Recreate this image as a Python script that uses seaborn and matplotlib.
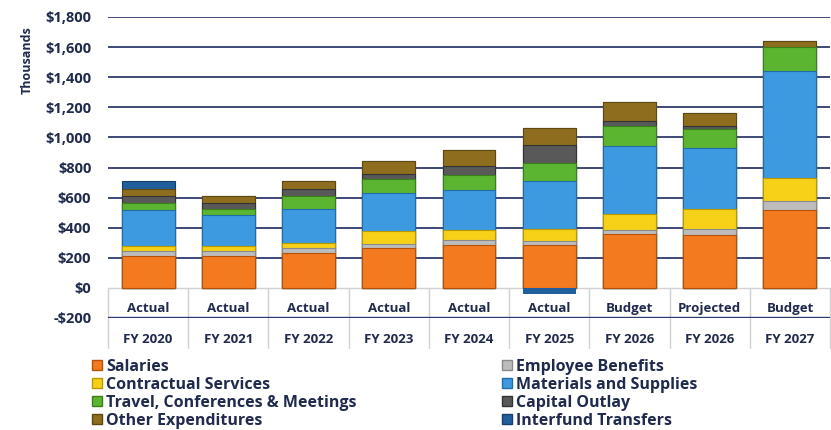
import numpy as np
import pandas as pd
import matplotlib
matplotlib.use("Agg")
import matplotlib.pyplot as plt
import seaborn as sns
from matplotlib.patches import Patch
from matplotlib.ticker import FuncFormatter

# ---------------- data ----------------
periods = ["Actual", "Actual", "Actual", "Actual", "Actual", "Actual", "Budget", "Projected", "Budget"]
years = ["FY 2020", "FY 2021", "FY 2022", "FY 2023", "FY 2024", "FY 2025", "FY 2026", "FY 2026", "FY 2027"]

salaries = [215, 215, 233, 262, 282, 282, 355, 350, 517]
employee_benefits = [30, 30, 34, 31, 35, 29, 29, 43, 60]
contractual_services = [33, 33, 33, 84, 67, 78, 105, 134, 150]
materials_supplies = [238, 206, 222, 256, 267, 322, 455, 400, 717]
travel = [51, 38, 89, 89, 100, 118, 129, 129, 156]
capital_outlay = [45, 40, 44, 33, 60, 120, 38, 22, 0]
other_expenditures = [44, 49, 56, 85, 104, 111, 122, 84, 40]
interfund_transfers = [52, 0, 0, 0, 0, -40, 0, 0, 0]

series_names = ["Salaries", "Employee Benefits", "Contractual Services", "Materials and Supplies",
                "Travel, Conferences & Meetings", "Capital Outlay", "Other Expenditures",
                "Interfund Transfers"]
series_values = [salaries, employee_benefits, contractual_services, materials_supplies,
                 travel, capital_outlay, other_expenditures, interfund_transfers]
colors = ["#F47A1F", "#BDBDBD", "#F7D117", "#3D9AE0", "#5BB531", "#595959", "#8E6E1E", "#215E9C"]
edges = ["#B5520A", "#8A8A8A", "#B89A00", "#1F6DA8", "#3A8019", "#333333", "#5E4810", "#143E6B"]

# ---------------- frame ----------------
keys = [f"{p} {y}" for p, y in zip(periods, years)]
df = pd.DataFrame(dict(zip(series_names, series_values)), index=keys)
pos = df.clip(lower=0).cumsum(axis=1)
neg = df.clip(upper=0)

sns.set_theme(style="white")
navy = "#1F2A4D"
plt.rcParams["font.family"] = ["Open Sans", "DejaVu Sans"]
plt.rcParams["font.weight"] = "bold"

fig = plt.figure(figsize=(8.31, 4.30), dpi=100)
ax = fig.add_axes([108 / 831, (430 - 318) / 430, 722 / 831, 301 / 430])

# gridlines
for v in [-200, 200, 400, 600, 800, 1000, 1200, 1400, 1600, 1800]:
    ax.axhline(v, color="#2E3A6B", lw=1.7 if v == -200 else 1.3, zorder=0.5)
ax.axhline(0, color="#D3D3D3", lw=1.0, zorder=0.6)

# stacked bars (draw cumulative from top layer down)
for i in reversed(range(len(series_names))):
    name = series_names[i]
    sns.barplot(x=keys, y=pos[name].values, order=keys, color=colors[i], saturation=1,
                edgecolor=edges[i], linewidth=0.8, width=0.66, errorbar=None, ax=ax, zorder=2)
name = series_names[-1]
sns.barplot(x=keys, y=neg[name].values, order=keys, color=colors[-1], saturation=1,
            edgecolor=colors[-1], linewidth=0, width=0.66, errorbar=None, ax=ax, zorder=2)

ax.set_xlim(-0.5, 8.5)
ax.set_ylim(-200, 1800)
ax.set_yticks(range(-200, 1801, 200))
ax.yaxis.set_major_formatter(FuncFormatter(lambda v, p: f"-${abs(v):,.0f}" if v < 0 else f"${v:,.0f}"))
ax.tick_params(axis="y", length=0, pad=12, labelsize=10.5, labelcolor=navy)
for t in ax.get_yticklabels():
    t.set_fontweight("bold")
ax.set_xticks([])
ax.set_xlabel("")
ax.set_ylabel("Thousands", fontsize=9, fontweight="bold", color=navy)
ax.yaxis.set_label_coords(-0.103, 0.857)
for s in ax.spines.values():
    s.set_visible(False)

# category table
for k in range(10):
    ax.plot([k - 0.5, k - 0.5], [0, -400], color="#D0D0D0", lw=1.0, clip_on=False, zorder=0.4)
for k, (p, y) in enumerate(zip(periods, years)):
    ax.text(k, -135, p, ha="center", va="center", fontsize=9.5, fontweight="bold", color=navy)
    ax.text(k, -340, y, ha="center", va="center", fontsize=9.5, fontweight="bold", color=navy,
            clip_on=False)

# legends
def handles(idx):
    return [Patch(facecolor=colors[i], edgecolor=edges[i], label=series_names[i]) for i in idx]

leg_kw = dict(loc="upper left", frameon=False, handlelength=0.6, handleheight=0.6,
              handletextpad=0.3, labelspacing=0.12, borderpad=0, borderaxespad=0,
              prop={"weight": "bold", "size": 11.5})
l1 = fig.legend(handles=handles([0, 2, 4, 6]), bbox_to_anchor=(92 / 831, 1 - 359 / 430), **leg_kw)
l2 = fig.legend(handles=handles([1, 3, 5, 7]), bbox_to_anchor=(502 / 831, 1 - 359 / 430), **leg_kw)
for lg in (l1, l2):
    for t in lg.get_texts():
        t.set_color(navy)

fig.savefig("out.png", dpi=100)
